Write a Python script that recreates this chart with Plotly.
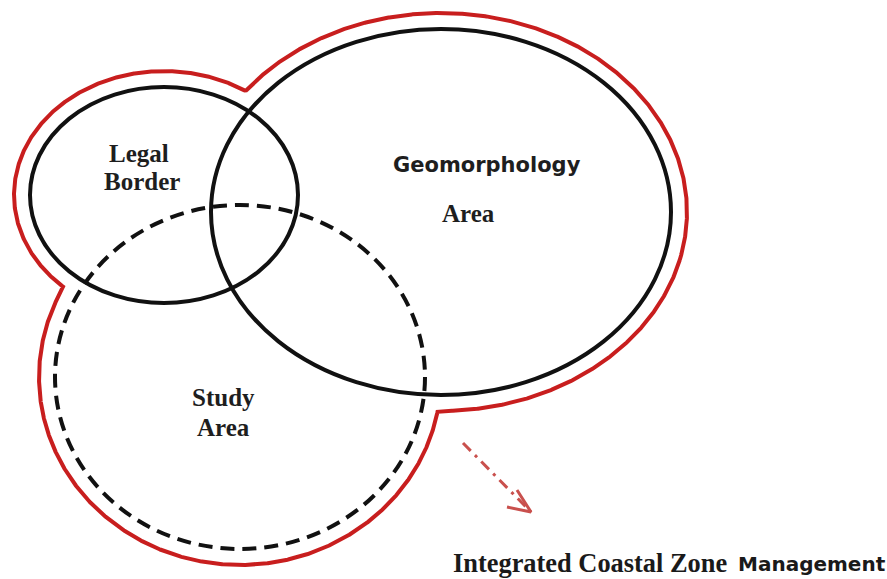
import numpy as np
import plotly.graph_objects as go

# ---- data (pixel-space diagram coordinates) ----
set_names = ["Legal Border", "Geomorphology Area", "Study Area"]
centers_x = [164, 441, 240]
centers_y = [195, 212, 377]
radii_x = [134, 230, 185]
radii_y = [108, 183, 172]
dashed = [False, False, True]

outline_offset = 16
star_center = [250, 260]

arrow_start = [463, 443]
arrow_tip = [531, 512]
arrow_arm1 = [507, 507]
arrow_arm2 = [517, 490]

W, H = 887, 579

fig = go.Figure()

# union outline (red), computed radially from a point common to all sets
theta = np.linspace(0, 2 * np.pi, 2881)
c, s = np.cos(theta), np.sin(theta)
px, py = star_center
r = np.zeros_like(theta)
for cx, cy, a, b in zip(centers_x, centers_y, radii_x, radii_y):
    a2, b2 = a + outline_offset, b + outline_offset
    dx, dy = px - cx, py - cy
    A = (c / a2) ** 2 + (s / b2) ** 2
    B = 2 * (dx * c / a2 ** 2 + dy * s / b2 ** 2)
    C = (dx / a2) ** 2 + (dy / b2) ** 2 - 1
    t = (-B + np.sqrt(B ** 2 - 4 * A * C)) / (2 * A)
    r = np.maximum(r, t)
fig.add_trace(go.Scatter(x=px + r * c, y=py + r * s, mode="lines",
                         line=dict(color="#c81e1e", width=4),
                         hoverinfo="skip", showlegend=False))

# set ellipses
for cx, cy, a, b, d in zip(centers_x, centers_y, radii_x, radii_y, dashed):
    fig.add_shape(type="circle", xref="x", yref="y",
                  x0=cx - a, x1=cx + a, y0=cy - b, y1=cy + b,
                  line=dict(color="#111111", width=4,
                            dash="14px,8px" if d else "solid"))

# dashed arrow
fig.add_trace(go.Scatter(x=[arrow_start[0], arrow_tip[0]], y=[arrow_start[1], arrow_tip[1]],
                         mode="lines", line=dict(color="#c9504d", width=3, dash="11px,6px,3px,6px"),
                         hoverinfo="skip", showlegend=False))
fig.add_trace(go.Scatter(x=[arrow_arm1[0], arrow_tip[0], arrow_arm2[0]],
                         y=[arrow_arm1[1], arrow_tip[1], arrow_arm2[1]],
                         mode="lines", line=dict(color="#c9504d", width=3),
                         hoverinfo="skip", showlegend=False))

serif = "Liberation Serif"
sans = "DejaVu Sans"
labels = [
    ("<b>Legal</b>", 139, 153, serif, 25),
    ("<b>Border</b>", 142, 181, serif, 25),
    ("<b>Geomorphology</b>", 487, 165, sans, 21),
    ("<b>Area</b>", 468, 213, serif, 25),
    ("<b>Study</b>", 223, 397, serif, 25),
    ("<b>Area</b>", 223, 427, serif, 25),
]
for txt, x, y, fam, sz in labels:
    fig.add_annotation(x=x, y=y, xref="x", yref="y", text=txt, showarrow=False,
                       font=dict(family=fam, size=sz, color="#1e1e1e"))

fig.add_annotation(x=451, y=563, xref="x", yref="y", xanchor="left",
                   text="<b>Integrated Coastal Zone</b>", showarrow=False,
                   font=dict(family=serif, size=26.4, color="#1a1a1a"))
fig.add_annotation(x=736, y=564, xref="x", yref="y", xanchor="left",
                   text="<b>Management</b>", showarrow=False,
                   font=dict(family=sans, size=20, color="#1a1a1a"))

fig.update_layout(width=W, height=H, margin=dict(l=0, r=0, t=0, b=0),
                  paper_bgcolor="white", plot_bgcolor="white",
                  xaxis=dict(range=[0, W], visible=False, fixedrange=True),
                  yaxis=dict(range=[H, 0], visible=False, fixedrange=True))

fig.write_html("out.html", config={"displayModeBar": False, "staticPlot": True},
               post_script="document.body.style.margin='0';document.body.style.overflow='hidden';")
